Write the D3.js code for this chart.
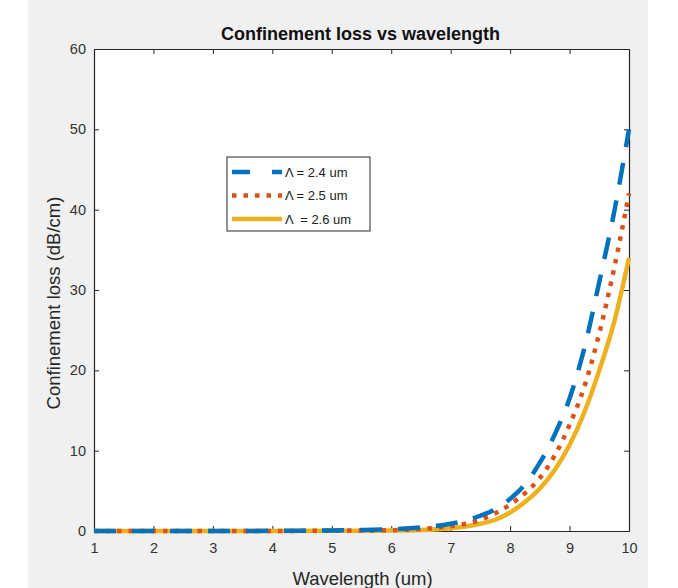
<!DOCTYPE html>
<html>
<head>
<meta charset="utf-8">
<script src="https://cdn.jsdelivr.net/npm/d3@7"></script>
<style>
  html, body { margin: 0; padding: 0; background: #ffffff; }
  svg { display: block; }
  text { font-family: "Liberation Sans", Arial, sans-serif; }
</style>
</head>
<body>
<svg id="chart" width="678" height="588"></svg>
<script>
// Wavelength samples (um)
const wavelength = [1, 2, 3, 4, 5, 5.5, 6, 6.5, 7, 7.25, 7.5, 7.75, 8, 8.25, 8.5, 8.75, 9, 9.25, 9.5, 9.75, 10];
// Confinement loss (dB/cm) for each pitch
const loss24 = [0, 0.001, 0.005, 0.02, 0.06, 0.12, 0.22, 0.45, 0.9, 1.3, 1.9, 2.7, 4.0, 5.8, 8.5, 12.0, 16.5, 22.8, 31.0, 39.7, 50];
const loss25 = [0, 0.001, 0.003, 0.01, 0.03, 0.06, 0.1, 0.25, 0.6, 0.9, 1.4, 2.2, 3.3, 4.7, 6.6, 9.4, 13.2, 18.0, 24.6, 32.7, 42];
const loss26 = [0, 0.001, 0.002, 0.006, 0.02, 0.03, 0.05, 0.13, 0.35, 0.55, 0.9, 1.4, 2.3, 3.6, 5.3, 7.6, 10.7, 14.8, 20.0, 26.0, 34];
const seriesNames = ["\u039B = 2.4 um", "\u039B = 2.5 um", "\u039B  = 2.6 um"];
const xTicks = [1, 2, 3, 4, 5, 6, 7, 8, 9, 10];
const yTicks = [0, 10, 20, 30, 40, 50, 60];

const svg = d3.select("#chart");
const W = 678, H = 588;
const plot = { left: 94, right: 629, top: 49, bottom: 531 };

// figure background
svg.append("rect").attr("x", 28).attr("y", 0).attr("width", 620).attr("height", H).attr("fill", "#f0f0f0");

const x = d3.scaleLinear().domain([1, 10]).range([plot.left, plot.right]);
const y = d3.scaleLinear().domain([0, 60]).range([plot.bottom, plot.top]);

svg.append("rect")
  .attr("x", plot.left).attr("y", plot.top)
  .attr("width", plot.right - plot.left).attr("height", plot.bottom - plot.top)
  .attr("fill", "#ffffff");

const axisColor = "#262626";
const tickLen = 5;

// axes with inward ticks on all four sides
const gB = svg.append("g").attr("transform", `translate(0,${plot.bottom})`)
  .call(d3.axisBottom(x).tickValues(xTicks).tickSizeInner(-tickLen).tickSizeOuter(0).tickPadding(12).tickFormat(d3.format("d")));
const gT = svg.append("g").attr("transform", `translate(0,${plot.top})`)
  .call(d3.axisTop(x).tickValues(xTicks).tickSizeInner(-tickLen).tickSizeOuter(0).tickFormat(""));
const gL = svg.append("g").attr("transform", `translate(${plot.left},0)`)
  .call(d3.axisLeft(y).tickValues(yTicks).tickSizeInner(-tickLen).tickSizeOuter(0).tickPadding(8).tickFormat(d3.format("d")));
const gR = svg.append("g").attr("transform", `translate(${plot.right},0)`)
  .call(d3.axisRight(y).tickValues(yTicks).tickSizeInner(-tickLen).tickSizeOuter(0).tickFormat(""));

[gB, gT, gL, gR].forEach(g => {
  g.select(".domain").attr("stroke", axisColor).attr("stroke-width", 1.2);
  g.selectAll(".tick line").attr("stroke", axisColor).attr("stroke-width", 1);
  g.selectAll(".tick text").attr("fill", "#333333").attr("font-size", 14.5);
});

// curves
const series = [
  { values: loss24, color: "#0072BD", dash: "22,16" },
  { values: loss25, color: "#D95319", dash: "4.5,7" },
  { values: loss26, color: "#EDB120", dash: null }
];
const line = d3.line().curve(d3.curveMonotoneX);
const layer = svg.append("g");
series.slice().reverse().forEach(s => {
  layer.append("path")
    .attr("d", line(wavelength.map((w, i) => [x(w), y(s.values[i])])))
    .attr("fill", "none")
    .attr("stroke", s.color)
    .attr("stroke-width", 4.5)
    .attr("stroke-linecap", "butt")
    .attr("stroke-dasharray", s.dash);
});

// title and axis labels
svg.append("text").attr("x", (plot.left + plot.right) / 2 - 1).attr("y", 40)
  .attr("text-anchor", "middle").attr("font-size", 18).attr("font-weight", "bold").attr("fill", "#111")
  .text("Confinement loss vs wavelength");
svg.append("text").attr("x", (plot.left + plot.right) / 2 + 1).attr("y", 585)
  .attr("text-anchor", "middle").attr("font-size", 18.5).attr("fill", "#262626")
  .text("Wavelength (um)");
svg.append("text")
  .attr("transform", `translate(60,${(plot.top + plot.bottom) / 2 + 13}) rotate(-90)`)
  .attr("text-anchor", "middle").attr("font-size", 18.5).attr("fill", "#262626")
  .text("Confinement loss (dB/cm)");

// legend
const leg = svg.append("g");
leg.append("rect").attr("x", 227).attr("y", 157).attr("width", 143).attr("height", 74)
  .attr("fill", "#ffffff").attr("stroke", "#262626").attr("stroke-width", 1);
series.forEach((s, i) => {
  const ly = 172 + i * 23.5;
  leg.append("line").attr("x1", 232).attr("x2", 282).attr("y1", ly).attr("y2", ly)
    .attr("stroke", s.color).attr("stroke-width", 4.5)
    .attr("stroke-dasharray", i === 0 ? "18,22" : s.dash);
  leg.append("text").attr("x", 285).attr("y", ly + 4.5)
    .attr("font-size", 13).attr("fill", "#222").style("white-space", "pre")
    .text(seriesNames[i]);
});
</script>
</body>
</html>
